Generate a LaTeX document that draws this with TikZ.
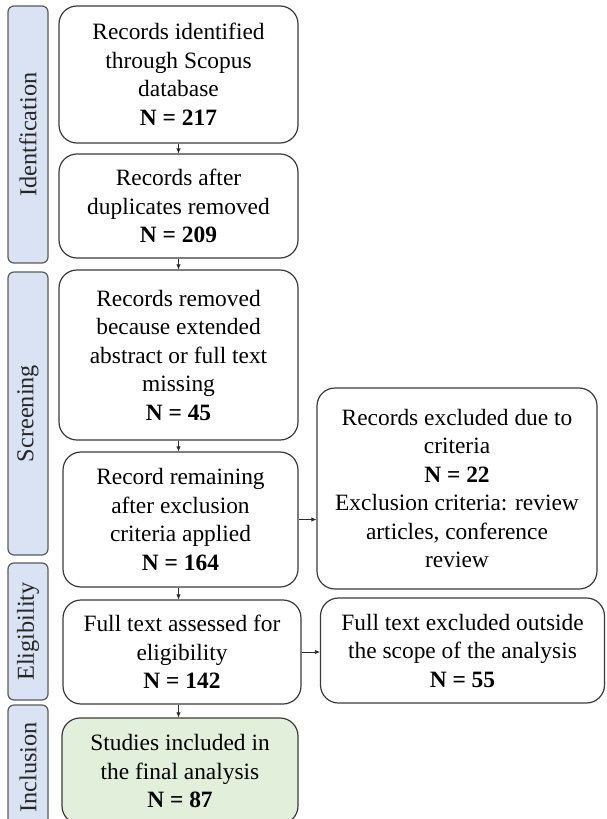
\documentclass[tikz,border=0pt]{standalone}
\usepackage{fontspec}
\setmainfont{Liberation Serif}
\usetikzlibrary{arrows.meta}
\definecolor{boxline}{HTML}{3A3A3A}
\definecolor{sideline}{HTML}{5A5A5A}
\definecolor{sidefill}{HTML}{DAE3F3}
\definecolor{greenfill}{HTML}{E2EFDA}
\definecolor{arrcol}{HTML}{2A2A2A}
\tikzset{
  box/.style={draw=boxline, line width=1.2pt, rounded corners=18pt, align=center, inner sep=0pt,
    font=\fontsize{23.4}{28.5}\selectfont, text=black},
  sidebar/.style={draw=sideline, fill=sidefill, line width=1.2pt, rounded corners=6pt, inner sep=0pt,
    rotate=90, minimum height=40pt, font=\fontsize{24.3}{28}\selectfont, text=black!85},
  arr/.style={-{Latex[length=5pt,width=4.5pt]}, line width=0.7pt, draw=arrcol}
}
\begin{document}
\begin{tikzpicture}[x=1pt,y=1pt]
\useasboundingbox (0,0) rectangle (606,-819);
\clip (0,0) rectangle (606,-819);
% side bars
\node[sidebar, minimum width=257pt] (sid) at (28,-134.5) {Identfication};
\node[sidebar, minimum width=283pt] (ssc) at (28,-413.5) {Screening};
\node[sidebar, minimum width=137pt] (sel) at (28,-631.5) {Eligibility};
\node[sidebar, minimum width=125pt] (sin) at (28,-767.5) {Inclusion};
% main boxes
\node[box, minimum width=239pt, minimum height=137pt] (b1) at (178.5,-74.5)
  {Records identified\\through Scopus\\database\\\textbf{N = 217}};
\node[box, minimum width=239pt, minimum height=104pt] (b2) at (178.5,-206)
  {Records after\\duplicates removed\\\textbf{N = 209}};
\node[box, minimum width=239pt, minimum height=170pt] (b3) at (178.5,-355)
  {Records removed\\because extended\\abstract or full text\\missing\\\textbf{N = 45}};
\node[box, minimum width=235pt, minimum height=135pt] (b4) at (180.5,-519.5)
  {Record remaining\\after exclusion\\criteria applied\\\textbf{N = 164}};
\node[box, minimum width=238pt, minimum height=104pt] (b5) at (182,-652)
  {Full text assessed for\\eligibility\\\textbf{N = 142}};
\node[box, fill=greenfill, minimum width=236pt, minimum height=106pt] (b6) at (180,-771)
  {Studies included in\\the final analysis\\\textbf{N = 87}};
% right boxes
\node[box, minimum width=280pt, minimum height=201pt] (ba) at (457,-488.5)
  {Records excluded due to\\criteria\\\textbf{N = 22}\\Exclusion criteria: review\\articles, conference\\review};
\node[box, minimum width=284pt, minimum height=105pt] (bb) at (462.5,-650.5)
  {Full text excluded outside\\the scope of the analysis\\\textbf{N = 55}};
% arrows
\draw[arr] (b1.south) -- (b2.north);
\draw[arr] (b2.south) -- (b3.north);
\draw[arr] (b3.south) -- (b4.north -| b3.south);
\draw[arr] (b4.south -| b3.south) -- (b5.north -| b3.south);
\draw[arr] (b5.south -| b3.south) -- (b6.north -| b3.south);
\draw[arr] (b4.east) -- (ba.west |- b4.east);
\draw[arr] (b5.east) -- (bb.west |- b5.east);
\end{tikzpicture}
\end{document}
